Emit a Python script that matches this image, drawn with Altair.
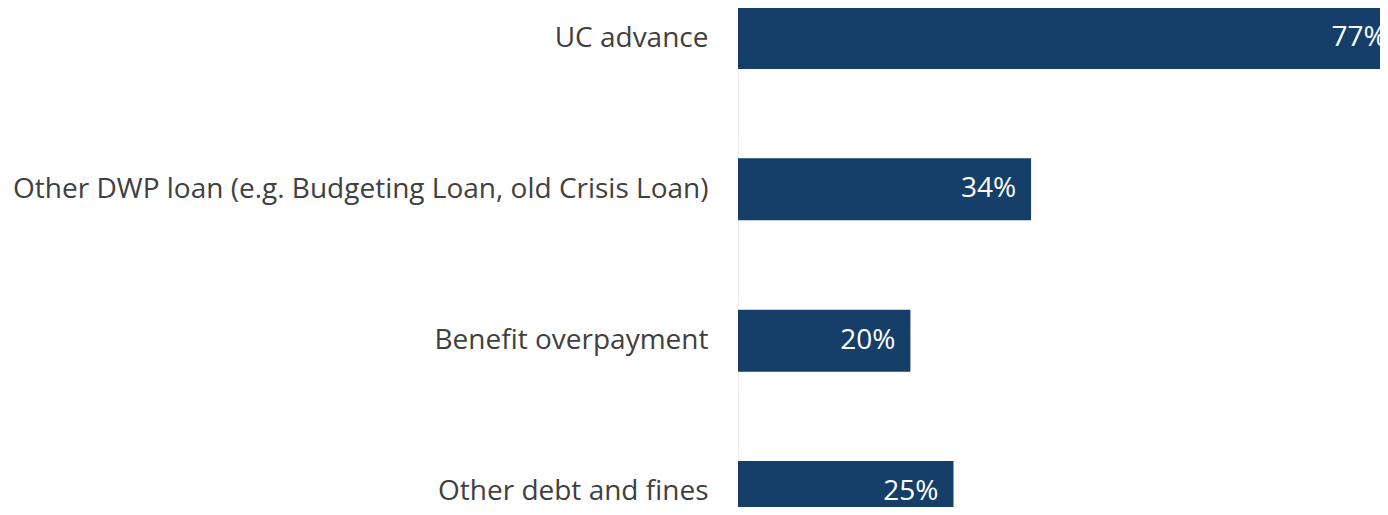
import json
import altair as alt
import pandas as pd

categories = [
    "UC advance",
    "Other DWP loan (e.g. Budgeting Loan, old Crisis Loan)",
    "Benefit overpayment",
    "Other debt and fines",
]
values = [77, 34, 20, 25]
labels = ["77%", "34%", "20%", "25%"]

df = pd.DataFrame({"cat": categories, "idx": list(range(len(categories))), "val": values, "lab": labels})

FONT = "Open Sans"
NAVY = "#153f69"
H = 499
W = 642
STEP = 151.33
TOP = 30

y = alt.Y(
    "idx:Q",
    title=None,
    scale=alt.Scale(domain=[-TOP / STEP, (H - TOP) / STEP], reverse=True, nice=False, zero=False, padding=0),
    axis=alt.Axis(
        values=list(range(len(categories))),
        labelExpr=json.dumps(categories) + "[datum.value]",
        ticks=False,
        grid=False,
        labelPadding=30,
        labelLimit=0,
        labelFont=FONT,
        labelFontSize=28,
        labelColor="#404040",
        domainColor="#eeeeee",
        domainWidth=1,
    ),
)
x = alt.X("val:Q", title=None, scale=alt.Scale(domain=[0, W / 8.62], nice=False, padding=0), axis=None)

bars = alt.Chart(df).mark_bar(color=NAVY, clip=True, size=62, orient="horizontal").encode(x=x, y=y)
text = alt.Chart(df).mark_text(
    align="right", baseline="middle", dx=-15, font=FONT, fontSize=28, color="white", clip=True
).encode(x=x, y=y, text="lab:N")

chart = (
    alt.layer(bars, text)
    .properties(
        width=W,
        height=H,
        autosize=alt.AutoSizeParams(type="none"),
        padding={"left": 730, "top": 0, "right": 0, "bottom": 0},
    )
    .configure_view(stroke=None)
)

chart.save("out.html", embed_options={"renderer": "svg", "actions": False})
